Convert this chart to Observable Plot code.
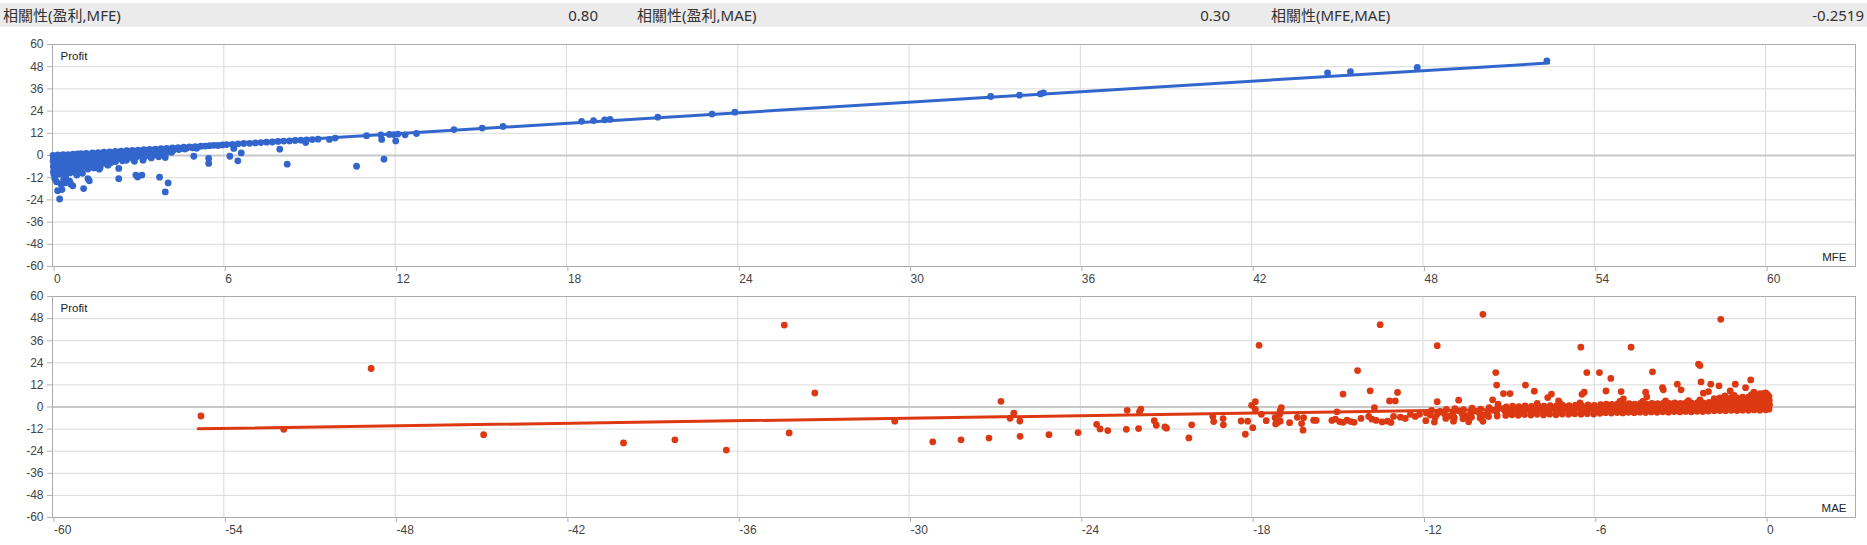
<!DOCTYPE html>
<html><head><meta charset="utf-8">
<script src="https://cdn.jsdelivr.net/npm/d3@7"></script>
<script src="https://cdn.jsdelivr.net/npm/@observablehq/plot@0.6"></script>
<style>
html,body{margin:0;padding:0;background:#fff;overflow:hidden;}
#hdr{position:relative;height:30px;width:1867px;}
#band{position:absolute;left:0;top:3px;width:1867px;height:24px;background:#ebebeb;}
.h{position:absolute;top:3px;height:24px;line-height:24px;font-family:"Noto Sans","Noto Sans CJK TC",sans-serif;font-size:15px;color:#333;white-space:nowrap;}
#top svg,#bottom svg{display:block;}
</style></head><body>
<div id="hdr"><div id="band"></div></div>
<div id="top"></div><div id="bottom"></div>
<script>
// ---- header statistics ----
const statLabels = ["相關性(盈利,MFE)", "相關性(盈利,MAE)", "相關性(MFE,MAE)"];
const statValues = ["0.80", "0.30", "-0.2519"];

// ---- axis ticks ----
const yTicks = [-60, -48, -36, -24, -12, 0, 12, 24, 36, 48, 60];
const mfeTicks = [0, 6, 12, 18, 24, 30, 36, 42, 48, 54, 60];
const maeTicks = [-60, -54, -48, -42, -36, -30, -24, -18, -12, -6, 0];
const mfeDomain = [0, 63.15];
const maeDomain = [-60, 3.15];

// ---- trend lines ----
const mfeTrend = [[0, 0.3], [52.4, 50.0]];
const maeTrend = [[-54.9, -11.8], [0.05, 0.8]];

// ---- MFE vs Profit ----
const mfePoints = [
[0.02,0.1],[0.04,-1.4],[0.02,-2.9],[0.05,-4.4],[0.03,-5.9],[0.06,-7.3],[0.03,-8.8],[0.05,-10.2],[0.09,-11.4],
[0.19,0.3],[0.17,-1.7],[0.21,-3.3],[0.16,-5.1],[0.23,-6.7],[0.19,-8.4],[0.24,-10.1],
[0.37,0.4],[0.34,-1.5],[0.40,-3.1],[0.35,-4.9],[0.42,-6.5],[0.37,-8.1],[0.41,-9.7],
[0.54,0.5],[0.51,-1.2],[0.57,-2.9],[0.52,-4.7],[0.58,-6.3],[0.55,-7.9],[0.61,-9.4],
[0.72,0.7],[0.69,-1.0],[0.75,-2.7],[0.70,-4.5],[0.76,-6.1],[0.72,-7.6],[0.78,-9.0],
[0.88,0.8],[0.91,-1.0],[0.86,-2.6],[0.92,-4.3],[0.88,-5.9],[0.94,-7.3],
[0.1,-0.8],[0.1,-3.8],[0.1,-6.6],[0.12,-9.5],[0.28,-2.4],[0.28,-5.8],[0.3,-9.0],[0.46,-0.6],[0.46,-4.0],[0.47,-7.3],[0.64,-2.0],[0.64,-5.5],[0.65,-8.6],[0.8,-0.1],[0.8,-3.6],[0.82,-6.8],
[0.18,-19.0],[0.25,-23.5],[0.33,-18.4],[0.30,-15.5],[0.44,-14.8],[0.39,-13.0],[0.46,-11.8],[0.64,-15.5],[0.71,-16.4],[0.60,-13.9],[1.09,-17.9],[1.24,-12.5],[1.29,-13.7],[0.08,-12.6],[0.14,-14.2],[0.85,-10.6],[1.05,-9.6],
[1.00,1.0],[1.03,-1.2],[0.98,-3.5],[1.06,-5.7],[1.01,-7.9],
[1.18,1.2],[1.22,-0.8],[1.20,-3.0],[1.16,-5.2],[1.24,-7.3],
[1.40,1.4],[1.37,-0.6],[1.43,-2.6],[1.38,-4.8],[1.45,-6.7],
[1.60,1.6],[1.63,-0.4],[1.57,-2.4],[1.65,-4.4],[1.61,-6.1],
[1.80,1.8],[1.77,-0.2],[1.84,-2.2],[1.79,-4.1],
[2.00,2.0],[2.03,0.1],[1.97,-1.9],[2.05,-3.8],[1.95,-5.1],
[2.20,2.2],[2.17,0.3],[2.24,-1.6],[2.21,-3.3],
[2.40,2.4],[2.43,0.5],[2.37,-1.4],[2.45,-2.9],
[2.60,2.6],[2.56,0.8],[2.63,-1.1],[2.59,-2.6],
[2.80,2.8],[2.83,1.0],[2.77,-0.9],[2.84,-2.3],
[3.00,2.9],[3.04,1.2],[2.97,-0.6],
[3.20,3.1],[3.17,1.5],[3.23,-0.2],
[3.40,3.3],[3.43,1.7],[3.37,0.0],[3.46,-1.3],
[3.60,3.5],[3.63,2.0],[3.57,0.4],
[3.80,3.7],[3.83,2.3],[3.77,0.8],
[4.00,3.9],[4.04,2.6],[3.97,1.1],
[4.20,4.1],[4.23,2.9],[4.17,1.7],
[4.40,4.3],[4.43,3.2],[4.60,4.5],[4.64,3.5],[4.80,4.7],[5.00,4.8],[5.05,3.9],
[1.1,0.1],[1.1,-2.2],[1.1,-4.4],[1.3,0.4],[1.3,-1.8],[1.3,-4.0],[1.5,0.6],[1.5,-1.5],[1.5,-3.6],[1.7,0.8],[1.7,-1.3],[1.7,-3.3],[1.9,1.0],[1.9,-1.0],[1.9,-3.0],[2.1,1.2],[2.1,-0.8],[2.1,-2.6],[2.3,1.4],[2.3,-0.6],[2.5,1.6],[2.5,-0.3],[2.7,1.8],[2.7,-0.1],[2.9,2.0],[3.1,2.2],[3.1,0.4],[3.3,2.4],[3.3,0.7],[3.5,2.7],[3.5,1.0],[3.7,2.9],[3.7,1.4],[3.9,3.1],[4.1,3.3],[4.3,3.6],[4.5,3.8],[4.7,4.0],[4.9,4.2],
[1.64,-7.4],[1.67,-6.5],[1.93,-5.2],[1.96,-3.8],[2.32,-12.5],[2.32,-7.0],[2.46,-1.1],[2.87,-3.1],[2.92,-10.6],[2.98,-11.6],[3.13,-10.6],[3.17,-2.5],[3.19,-1.4],[3.72,-0.7],[3.75,-11.7],[3.95,-19.7],[4.05,-14.8],[3.95,-1.1],[4.95,-0.4],[5.47,-1.6],[5.47,-4.3],[6.21,-0.4],[6.49,-2.9],[6.35,3.8],[6.61,1.4],[7.96,3.4],[8.22,-4.7],[10.65,-5.8],[11.61,-2.0],[11.53,8.7],[12.02,7.9],[8.87,7.0],
[5.20,5.0],[5.35,5.1],[5.50,5.3],[5.65,5.5],[5.80,5.4],[5.95,5.7],[6.10,5.9],[6.30,6.0],[6.50,6.3],[6.70,6.5],[6.90,6.6],[7.10,6.8],[7.30,7.0],[7.50,7.2],[7.70,7.3],[7.90,7.6],[8.10,7.8],[8.30,7.9],[8.50,8.1],[8.70,8.3],[8.90,8.5],[9.10,8.6],[9.30,8.8],[9.70,8.7],[9.90,9.4],[11.00,10.7],[11.50,11.2],[11.80,11.4],[11.95,11.3],[12.10,11.6],[12.35,11.2],[12.75,11.9],
[14.06,14.0],[15.05,14.8],[15.78,15.7],[18.53,18.5],[18.95,18.9],[19.34,19.3],[19.53,19.5],[21.2,20.7],[23.1,22.4],[23.9,23.4],
[32.86,31.9],[33.87,32.6],[34.6,33.3],[34.71,33.9],[44.66,44.6],[45.46,45.3],[47.8,47.6],[52.34,51.2]
];

// ---- MAE vs Profit ----
const maePoints = [
[-54.8,-4.9],[-51.9,-12.1],[-48.84,20.9],[-44.9,-15.0],[-40.0,-19.5],[-38.2,-17.8],[-36.4,-23.4],
[-34.37,44.5],[-34.2,-14.1],[-33.3,7.6],[-30.5,-7.7],[-29.17,-18.9],[-28.18,-17.8],[-27.2,-16.9],[-26.78,3.1],[-26.33,-3.4],[-26.46,-6.1],[-26.12,-7.6],[-26.11,-15.9],[-25.1,-15.0],[-24.08,-13.9],[-23.43,-9.4],[-23.31,-11.9],[-23.04,-12.8],[-22.39,-12.1],[-22.36,-1.8],[-21.96,-11.7],[-21.93,-2.7],[-21.88,-1.1],[-21.41,-7.4],[-21.34,-9.9],[-21.04,-10.8],[-20.98,-11.5],[-20.2,-16.8],[-20.1,-9.7],[-19.36,-5.2],[-19.33,-7.9],[-19.0,-6.3],[-18.99,-9.7],[-18.37,-7.6],[-18.22,-14.8],[-18.14,-7.7],[-17.96,-11.2],[-18.0,0.9],[-17.87,2.9],[-17.74,33.5],[-17.87,-1.3],[-17.66,-4.0],[-17.49,-7.4],[-17.18,-5.8],[-17.16,-9.2],[-17.1,-8.5],[-17.0,-7.7],[-17.0,-2.0],[-16.96,-0.4],[-17.02,-4.1],[-16.67,-8.5],[-16.4,-5.6],[-16.25,-9.0],[-16.2,-12.6],[-16.18,-5.8],
[-15.83,-7.2],[-15.74,-7.3],[-15.19,-7.3],[-15.07,-6.6],[-14.92,-7.9],[-14.8,-8.3],[-14.66,-7.2],[-14.52,-7.9],[-14.41,-8.3],[-15.01,-2.6],[-14.17,-6.2],[-13.9,-5.1],[-13.79,-6.6],[-13.64,-7.3],[-13.43,-8.1],[-13.24,-7.7],[-13.12,-8.4],[-13.03,-5.1],[-12.79,-5.5],[-12.62,-6.2],[-12.44,-4.0],[-12.27,-5.1],[-12.12,-4.0],[-11.88,-3.3],[-11.74,-4.4],[-11.57,-5.5],[-11.49,-3.7],
[-14.29,19.8],[-14.8,7.0],[-13.85,8.8],[-12.89,7.9],[-13.17,3.3],[-12.97,3.3],[-13.7,-0.4],[-11.5,2.9],[-10.75,3.7],[-9.45,18.7],[-9.42,11.9],[-9.18,7.3],[-8.95,7.3],[-9.56,3.9],[-9.37,1.5],[-8.41,11.9],[-8.1,8.6],[-7.63,5.1],[-7.5,7.0],[-7.25,3.3],
[-13.5,44.7],[-11.5,33.3],[-9.9,50.3],
[-1.57,47.6],[-6.47,32.5],[-4.71,32.5],[-6.26,18.7],[-5.82,18.7],[-5.42,15.5],[-3.96,19.1],[-2.35,23.3],[-2.3,22.5],[-2.26,13.6],[-1.92,12.4],[-1.63,11.5],[-1.06,12.4],[-0.52,14.7],[-0.7,10.5],[-1.24,8.7],[-0.41,8.0],[-5.59,8.7],[-5.06,8.4],[-6.43,6.9],[-6.35,8.0],[-4.2,8.0],[-4.16,5.5],[-3.61,10.5],[-3.58,9.3],[-3.09,12.4],[-2.96,9.3],[-2.18,7.5],[-2.0,8.4],[-1.42,6.0],[-4.98,4.4],[-0.08,7.3],[0.03,6.9],
[-11.9,-7.4],[-11.6,-8.2],[-10.4,-8.0],[-9.9,-7.8],[-10.93,-7.7],
[-11.2,-6.2],[-11.25,-3.6],[-11.18,-1.3],[-10.9,-5.8],[-10.95,-3.2],[-10.88,-0.9],[-10.6,-6.4],[-10.62,-3.9],[-10.58,-1.5],[-10.3,-5.5],[-10.32,-3.0],[-10.28,-0.6],[-10.0,-6.0],[-10.02,-3.4],[-9.98,-1.1],[-9.7,-5.2],[-9.72,-2.8],[-9.68,-0.4],[-9.4,-4.9],[-9.42,-2.5],[-9.38,-0.2],
[-11.05,-4.9],[-10.75,-2.1],[-10.45,-4.7],[-10.15,-2.2],[-9.85,-4.3],[-9.55,-1.7],[-11.4,-2.4],[-11.7,-1.9],
[-9.1,-4.6],[-9.12,-2.3],[-9.08,0.1],[-8.88,-4.2],[-8.9,-1.9],[-8.86,0.4],[-8.66,-4.5],[-8.68,-2.2],[-8.64,0.2],[-8.44,-4.1],[-8.46,-1.8],[-8.42,0.6],[-8.22,-4.4],[-8.24,-2.0],[-8.2,0.3],[-8.0,-4.0],[-8.02,-1.7],[-7.98,0.7],[-7.78,-4.3],[-7.8,-1.9],[-7.76,0.5],[-7.56,-3.9],[-7.58,-1.6],[-7.54,0.8],[-7.34,-4.2],[-7.36,-1.8],[-7.32,0.6],[-7.12,-3.8],[-7.14,-1.5],[-7.1,0.9],[-6.9,-4.0],[-6.92,-1.7],[-6.88,0.7],[-6.68,-3.7],[-6.7,-1.4],[-6.66,1.0],[-6.46,-3.9],[-6.48,-1.6],[-6.44,0.8],[-6.24,-3.6],[-6.26,-1.3],[-6.22,1.1],[-6.02,-3.8],[-6.04,-1.5],[-6.0,0.9],
[-9.0,-3.4],[-8.78,-0.8],[-8.56,-3.2],[-8.34,-0.7],[-8.12,-3.1],[-7.9,-0.5],[-7.68,-3.0],[-7.46,-0.4],[-7.24,-2.9],[-7.02,-0.3],[-6.8,-2.8],[-6.58,-0.2],[-6.36,-2.6],[-6.14,-0.1],[-5.92,-2.5],[-9.2,-0.9],[-8.0,1.9],[-7.2,2.0],[-6.5,2.2],
[-5.8,-3.4],[-5.82,-1.1],[-5.78,1.3],[-5.6,-3.1],[-5.62,-0.8],[-5.58,1.6],[-5.4,-3.3],[-5.42,-1.0],[-5.38,1.4],[-5.2,-3.0],[-5.22,-0.7],[-5.18,1.7],[-5.0,-3.2],[-5.02,-0.9],[-4.98,1.5],[-4.8,-2.9],[-4.82,-0.6],[-4.78,1.8],[-4.6,-3.1],[-4.62,-0.8],[-4.58,1.6],[-4.4,-2.8],[-4.42,-0.5],[-4.38,1.9],[-4.2,-3.0],[-4.22,-0.7],[-4.18,1.7],[-4.0,-2.7],[-4.02,-0.4],[-3.98,2.0],[-3.8,-2.9],[-3.82,-0.6],[-3.78,1.8],[-3.6,-2.6],[-3.62,-0.3],[-3.58,2.1],[-3.4,-2.8],[-3.42,-0.5],[-3.38,1.9],[-3.2,-2.5],[-3.22,-0.2],[-3.18,2.2],[-3.0,-2.7],[-3.02,-0.4],[-2.98,2.0],[-2.8,-2.4],[-2.82,-0.1],[-2.78,2.3],[-2.6,-2.6],[-2.62,-0.3],[-2.58,2.1],[-2.4,-2.3],[-2.42,0.0],[-2.38,2.4],[-2.2,-2.5],[-2.22,-0.2],[-2.18,2.2],[-2.0,-2.2],[-2.02,0.1],[-1.98,2.5],
[-5.7,-2.0],[-5.5,0.4],[-5.3,-1.9],[-5.1,0.5],[-4.9,-1.8],[-4.7,0.6],[-4.5,-1.7],[-4.3,0.7],[-4.1,-1.6],[-3.9,0.8],[-3.7,-1.5],[-3.5,0.9],[-3.3,-1.4],[-3.1,1.0],[-2.9,-1.3],[-2.7,1.1],[-2.5,-1.2],[-2.3,1.2],[-2.1,-1.1],[-5.1,3.0],[-4.3,3.1],[-3.5,3.3],[-2.7,3.5],[-2.3,3.9],
[-1.8,-2.1],[-1.82,0.3],[-1.78,2.7],[-1.8,4.6],[-1.6,-1.9],[-1.62,0.5],[-1.58,2.9],[-1.6,5.0],[-1.4,-2.0],[-1.42,0.4],[-1.38,2.8],[-1.4,4.8],[-1.2,-1.8],[-1.22,0.6],[-1.18,3.0],[-1.2,5.2],[-1.0,-1.9],[-1.02,0.5],[-0.98,2.9],[-1.0,5.0],[-0.8,-1.7],[-0.82,0.7],[-0.78,3.1],[-0.8,5.4],[-0.6,-1.8],[-0.62,0.6],[-0.58,3.0],[-0.6,5.3],[-0.4,-1.6],[-0.42,0.8],[-0.38,3.2],[-0.4,5.6],[-0.2,-1.7],[-0.22,0.7],[-0.18,3.1],[-0.2,5.5],[-0.2,7.2],[0.0,-1.5],[0.02,0.9],[-0.01,3.3],[0.01,5.7],[0.0,7.6],[0.12,-1.2],[0.14,1.2],[0.13,3.6],[0.12,5.8],
[-1.7,-0.8],[-1.5,1.6],[-1.3,3.9],[-1.1,-0.6],[-0.9,1.8],[-0.7,4.1],[-0.5,-0.5],[-0.3,2.0],[-0.1,4.4],[-1.7,3.8],[-1.1,6.3],[-0.5,6.6],[-0.05,-0.2],[0.08,2.3],[0.06,6.8]
];

// ---- header ----
const hdr = document.getElementById("hdr");
const labelLeft = [3, 637, 1271];
const valueRight = [598, 1230, 1864];
statLabels.forEach((t, i) => {
  const a = document.createElement("div");
  a.className = "h"; a.textContent = t; a.style.left = labelLeft[i] + "px";
  hdr.appendChild(a);
  const b = document.createElement("div");
  b.className = "h"; b.textContent = statValues[i]; b.style.right = (1867 - valueRight[i]) + "px";
  hdr.appendChild(b);
});

function panel(points, trend, color, xDomain, xTicks, xName, height, mt, mb) {
  return Plot.plot({
    width: 1867, height,
    marginLeft: 52, marginRight: 12, marginTop: mt, marginBottom: mb,
    style: {fontFamily: "'Liberation Sans', Arial, sans-serif", fontSize: "12px", background: "#fff", color: "#444"},
    x: {domain: xDomain},
    y: {domain: [-60, 60]},
    marks: [
      Plot.gridX({ticks: xTicks, stroke: "#dadada", strokeOpacity: 1}),
      Plot.gridY({ticks: yTicks, stroke: "#dadada", strokeOpacity: 1}),
      Plot.ruleY([0], {stroke: "#c8c8c8", strokeWidth: 2}),
      Plot.frame({stroke: "#ababab"}),
      Plot.axisX({ticks: xTicks, tickSize: 5, tickPadding: 3, textAnchor: "start", dx: 1.5, stroke: "#b0b0b0", fill: "#444", tickFormat: d => String(d), label: null}),
      Plot.axisY({ticks: yTicks, tickSize: 5, tickPadding: 4, stroke: "#b0b0b0", fill: "#444", tickFormat: d => String(d), label: null}),
      Plot.dot(points, {x: d => d[0], y: d => d[1], r: 3.4, fill: color}),
      Plot.line(trend, {x: d => d[0], y: d => d[1], stroke: color, strokeWidth: 3}),
      Plot.text(["Profit"], {text: d => d, frameAnchor: "top-left", dx: 8, dy: 7, textAnchor: "start", lineAnchor: "top", fill: "#222", fontSize: 11.5}),
      Plot.text([xName], {text: d => d, frameAnchor: "bottom-right", dx: -9, dy: -6, textAnchor: "end", lineAnchor: "bottom", fill: "#222", fontSize: 11.5})
    ]
  });
}

document.getElementById("top").appendChild(
  panel(mfePoints, mfeTrend, "#3366cc", mfeDomain, mfeTicks, "MFE", 256, 14, 20));
document.getElementById("bottom").appendChild(
  panel(maePoints, maeTrend, "#dc3912", maeDomain, maeTicks, "MAE", 259, 10, 28));
</script>
</body></html>
